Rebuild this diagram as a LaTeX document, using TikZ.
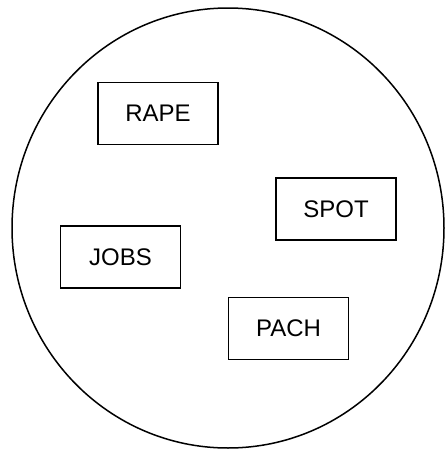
\documentclass[tikz,border=0pt]{standalone}
\usepackage{fontspec}
\setmainfont{Liberation Sans}

\tikzset{
  setbox/.style={draw, line width=1.5pt, minimum width=120pt, minimum height=62pt,
    inner sep=0pt, text depth=-4pt, font=\fontsize{24}{26}\selectfont}
}

\begin{document}
\begin{tikzpicture}[x=1pt, y=-1pt]

		\useasboundingbox (0,0) rectangle (445,450);

		% outer set
		\draw[line width=1.5pt] (228,228) ellipse [x radius=216, y radius=220];

		% members
		\node[setbox] (rape) at (158,113.5) {RAPE};
		\node[setbox] (spot) at (336,209) {SPOT};
		\node[setbox] (jobs) at (120.5,257) {JOBS};
		\node[setbox] (pach) at (288.5,328.5) {PACH};

	\end{tikzpicture}
\end{document}
